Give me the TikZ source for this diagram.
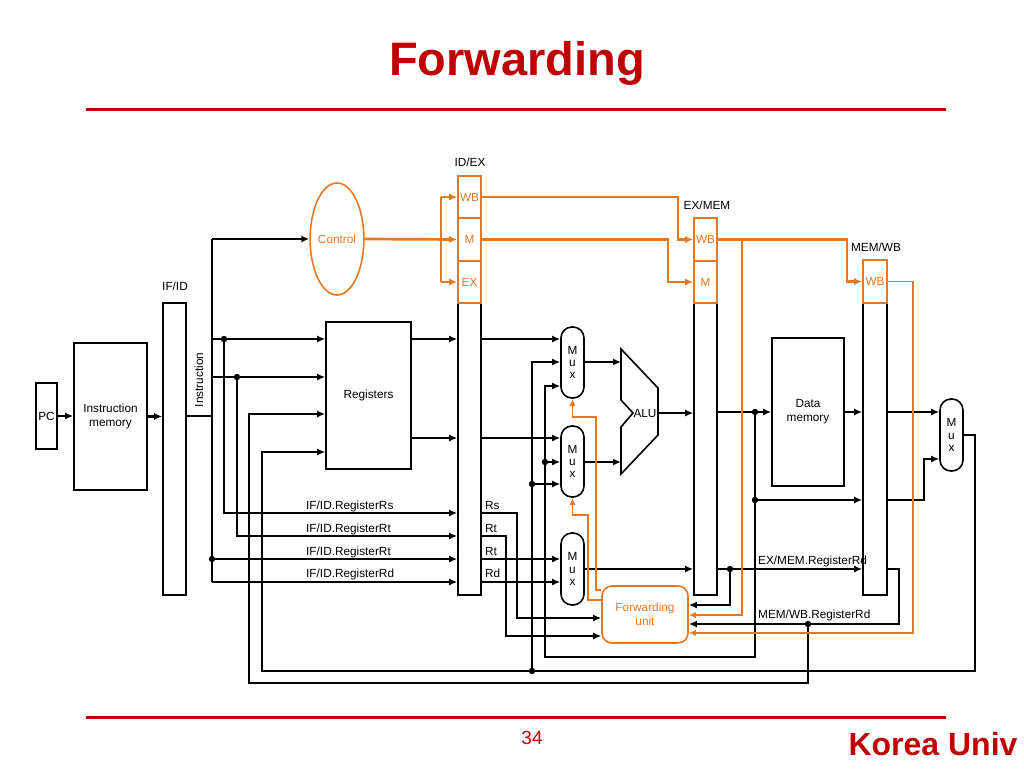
\documentclass[tikz,border=0pt]{standalone}
\usepackage{fontspec}
\setmainfont{Liberation Sans}
\usetikzlibrary{arrows.meta,shapes.geometric,calc}
\definecolor{orng}{RGB}{232,119,34}
\definecolor{kred}{RGB}{192,0,0}
\newcommand\lblfont{\fontsize{11.8}{14}\selectfont}
\newcommand\muxfont{\fontsize{11.8}{12.3}\selectfont}
\begin{document}
\begin{tikzpicture}[x=1pt,y=-1pt,
  wire/.style={line width=2.7pt,black},
  arr/.style={-{Latex[length=8pt,width=7pt]}},
  sarr/.style={-{Latex[length=7pt,width=6pt]}},
  ctl/.style={line width=2.7pt,orng},
  fwdw/.style={line width=1.6pt,orng},
  blk/.style={draw,line width=1.6pt,inner sep=0pt,font=\lblfont,align=center},
  reg/.style={blk,minimum width=23pt,minimum height=292pt},
  obox/.style={draw=orng,line width=1.6pt,text=orng,inner sep=0pt,minimum width=23pt,font=\lblfont},
  mux/.style={draw,line width=1.6pt,rounded corners=11pt,minimum width=23pt,minimum height=71pt,inner sep=0pt,align=center,font=\muxfont},
  lbl/.style={font=\lblfont,inner sep=0pt},
  jdot/.style={fill=black},
]
\useasboundingbox (0,0) rectangle (1024,768);

% title and frame
\node[anchor=base,text=kred,font=\fontsize{47}{50}\selectfont\bfseries] (title) at (517,75) {Forwarding};
\draw[kred,line width=3pt] (86,109) -- (946,109);
\draw[kred,line width=3pt] (86,717) -- (946,717);
\node[anchor=base,text=kred,font=\fontsize{19}{20}\selectfont] (pnum) at (532,744) {34};
\node[anchor=base,text=kred,font=\fontsize{32}{33}\selectfont\bfseries] (univ) at (933,755) {Korea Univ};

% blocks
\node[blk,minimum width=21pt,minimum height=66pt] (pc) at (46.5,416) {PC};
\node[blk,minimum width=73pt,minimum height=147pt] (im) at (110.5,416.5) {Instruction\\memory};
\node[reg] (ifid) at (174.5,449) {};
\node[lbl] (ifidl) at (175,286) {IF/ID};
\node[lbl,rotate=90] (instr) at (199,380) {Instruction};
\node[blk,minimum width=85pt,minimum height=147pt] (regs) at (368.5,395.5) {Registers};
\node[draw=orng,line width=1.6pt,ellipse,minimum width=46pt,minimum height=112pt,inner sep=0pt,text=orng,font=\lblfont] (ctrl) at (337,239) {Control};

\node[reg] (idex) at (469.5,449) {};
\node[obox,minimum height=42pt] (idexWB) at (469.5,197) {WB};
\node[obox,minimum height=43pt] (idexM) at (469.5,239.5) {M};
\node[obox,minimum height=42pt] (idexEX) at (469.5,282) {EX};
\node[lbl] (idexl) at (470,162) {ID/EX};

\node[reg] (exmem) at (705.5,449) {};
\node[obox,minimum height=43pt] (exmemWB) at (705.5,239.5) {WB};
\node[obox,minimum height=42pt] (exmemM) at (705.5,282) {M};
\node[lbl] (exmeml) at (707,205) {EX/MEM};

\node[reg,minimum width=24pt] (memwb) at (875,449) {};
\node[obox,minimum width=24pt,minimum height=43pt] (memwbWB) at (875,281.5) {WB};
\node[lbl] (memwbl) at (876,247) {MEM/WB};

\node[blk,minimum width=72pt,minimum height=148pt] (dm) at (808,412) {Data\\memory};

\node[mux] (mux1) at (572.5,362.5) {M\\u\\x};
\node[mux] (mux2) at (572.5,461.5) {M\\u\\x};
\node[mux,minimum height=72pt] (mux3) at (572.5,569) {M\\u\\x};
\node[mux,minimum height=72pt] (wbmux) at (951.5,435) {M\\u\\x};

\draw[line width=1.6pt] (621,349) -- (658,388) -- (658,435) -- (621,474) -- (621,427) -- (633,413) -- (621,400) -- cycle;
\node[lbl] (alu) at (645,413) {ALU};
\coordinate (aluA) at (621,362);
\coordinate (aluB) at (621,462);
\coordinate (aluO) at (658,413);

\node[draw=orng,line width=1.6pt,rounded corners=10pt,minimum width=86pt,minimum height=57pt,text=orng,align=center,font=\lblfont,inner sep=0pt] (fu) at (645,614.5) {Forwarding\\unit};

% labels
\node[lbl,anchor=base west] (l1) at (306,509) {IF/ID.RegisterRs};
\node[lbl,anchor=base west] (l2) at (306,532) {IF/ID.RegisterRt};
\node[lbl,anchor=base west] (l3) at (306,555) {IF/ID.RegisterRt};
\node[lbl,anchor=base west] (l4) at (306,577) {IF/ID.RegisterRd};
\node[lbl,anchor=base west] (r1) at (485,509) {Rs};
\node[lbl,anchor=base west] (r2) at (485,532) {Rt};
\node[lbl,anchor=base west] (r3) at (485,555) {Rt};
\node[lbl,anchor=base west] (r4) at (485,577) {Rd};
\node[lbl,anchor=base west] (exrd) at (758,564) {EX/MEM.RegisterRd};
\node[lbl,anchor=base west] (wbrd) at (758,618) {MEM/WB.RegisterRd};

% IF stage
\draw[wire,arr] (pc.east) -- (im.west |- pc.east);
\draw[wire,arr] (im.east) -- (ifid.west |- im.east);
\draw[wire] (ifid.east |- 0,416) -- (212,416);
\draw[wire] (212,239) -- (212,582);
\draw[wire,arr] (212,239) -- (ctrl.west);

% to registers
\draw[wire,arr] (212,339) -- (regs.west |- 0,339);
\draw[wire,arr] (212,377) -- (regs.west |- 0,377);
\draw[wire,arr] (808,624) -- (808,683) -- (249,683) -- (249,414) -- (regs.west |- 0,414);
\draw[wire,arr] (wbmux.east) -- (975,435) -- (975,671) -- (262,671) -- (262,452) -- (regs.west |- 0,452);

% IF/ID fields to ID/EX
\draw[wire,arr] (224,339) -- (224,513) -- (idex.west |- 0,513);
\draw[wire,arr] (237,377) -- (237,536) -- (idex.west |- 0,536);
\draw[wire,arr] (212,559) -- (idex.west |- 0,559);
\draw[wire,arr] (212,582) -- (idex.west |- 0,582);

% registers to ID/EX
\draw[wire,arr] (regs.east |- 0,339) -- (idex.west |- 0,339);
\draw[wire,arr] (regs.east |- 0,438) -- (idex.west |- 0,438);

% ID/EX to muxes
\draw[wire,arr] (idex.east |- 0,339) -- (mux1.west |- 0,339);
\draw[wire,arr] (idex.east |- 0,438) -- (mux2.west |- 0,438);
\draw[wire,arr] (mux1.east |- aluA) -- (aluA);
\draw[wire,arr] (mux2.east |- aluB) -- (aluB);
\draw[wire,arr] (aluO) -- (exmem.west |- aluO);

% Rs Rt to forwarding unit
\draw[wire,arr] (idex.east |- 0,513) -- (517,513) -- (517,618) -- (fu.west |- 0,618);
\draw[wire,arr] (idex.east |- 0,536) -- (506,536) -- (506,636) -- (fu.west |- 0,636);
\draw[wire,arr] (idex.east |- 0,559) -- (mux3.west |- 0,559);
\draw[wire,arr] (idex.east |- 0,582) -- (mux3.west |- 0,582);
\draw[wire,arr] (mux3.east) -- (exmem.west |- mux3.east);

% EX/MEM Rd
\draw[wire,arr] (exmem.east |- 0,569) -- (memwb.west |- 0,569);
\draw[wire,arr] (730,569) -- (730,605) -- (fu.east |- 0,605);
\draw[wire,arr] (memwb.east |- 0,569) -- (899,569) -- (899,624) -- (fu.east |- 0,624);

% EX/MEM ALU result
\draw[wire,arr] (exmem.east |- 0,412) -- (dm.west |- 0,412);
\draw[wire,arr] (755,412) -- (755,657) -- (545,657) -- (545,386) -- (mux1.west |- 0,386);
\draw[wire,arr] (545,462) -- (mux2.west |- 0,462);
\draw[wire,arr] (532,671) -- (532,362) -- (mux1.west |- 0,362);
\draw[wire,arr] (532,484) -- (mux2.west |- 0,484);
\draw[wire,arr] (755,500) -- (memwb.west |- 0,500);
\draw[wire,arr] (dm.east |- 0,412) -- (memwb.west |- 0,412);
\draw[wire,arr] (memwb.east |- 0,412) -- (wbmux.west |- 0,412);
\draw[wire,arr] (memwb.east |- 0,500) -- (924,500) -- (924,459) -- (wbmux.west |- 0,459);

% junction dots
\foreach \p in {(224,339),(237,377),(212,559),(545,462),(532,484),(532,671),(755,412),(755,500),(730,569),(808,624)}
  \fill[jdot] \p circle (3.2pt);

% control lines
\draw[ctl,arr] (ctrl.east) -- (idexM.west);
\draw[ctl] (441,197) -- (441,282);
\draw[ctl,arr] (441,197) -- (idexWB.west);
\draw[ctl,arr] (441,282) -- (idexEX.west);
\draw[ctl,arr] (idexWB.east) -- (678,197) -- (678,239.5) -- (exmemWB.west);
\draw[ctl,arr] (idexM.east) -- (668,239.5) -- (668,282) -- (exmemM.west);
\draw[ctl,arr] (exmemWB.east) -- (847,239.5) -- (847,281.5) -- (memwbWB.west);

% forwarding control
\draw[fwdw,sarr] (742,239.5) -- (742,615) -- (fu.east |- 0,615);
\draw[fwdw,sarr] (memwbWB.east) -- (913,281.5) -- (913,633) -- (fu.east |- 0,633);
\draw[fwdw,sarr] (fu.west |- 0,590) -- (596,590) -- (596,417) -- (572.5,417) -- (mux1.south);
\draw[fwdw,sarr] (fu.west |- 0,600) -- (588,600) -- (588,515) -- (572.5,515) -- (mux2.south);
\end{tikzpicture}
\end{document}
